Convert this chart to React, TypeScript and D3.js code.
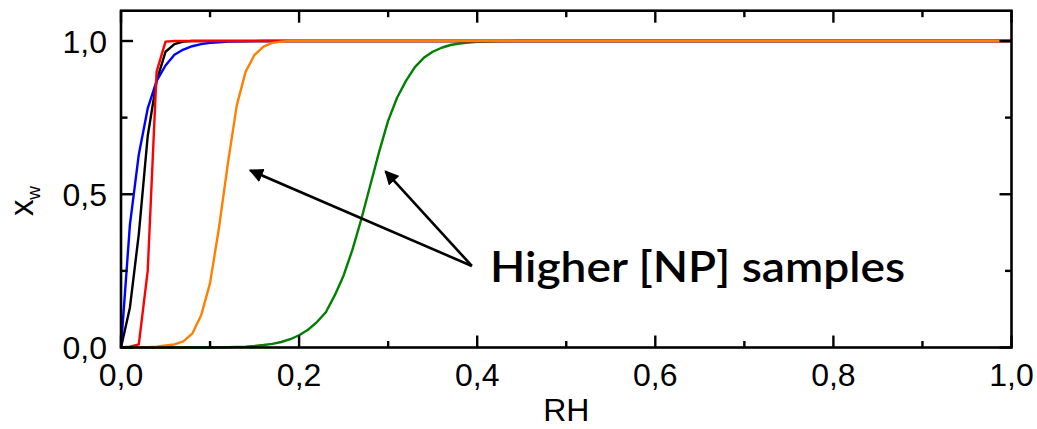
import React from 'react';
import * as d3 from 'd3';

const width = 1037;
const height = 429;

// series (RH vs x_w)
const redRH = [0, 0.01, 0.02, 0.03, 0.04, 0.05, 0.06, 1.0];
const redXw = [0, 0.003, 0.01, 0.25, 0.9, 0.998, 1, 1];

const blackRH = [0, 0.01, 0.02, 0.03, 0.04, 0.05, 0.06, 0.07, 0.08, 1.0];
const blackXw = [0, 0.13, 0.37, 0.69, 0.87, 0.965, 0.99, 0.998, 1, 1];

const blueRH = [0, 0.01, 0.02, 0.03, 0.04, 0.05, 0.06, 0.07, 0.08, 0.09, 0.1, 0.11, 0.12, 0.14, 0.16, 0.18, 1.0];
const blueXw = [0, 0.4, 0.63, 0.78, 0.87, 0.92, 0.955, 0.972, 0.983, 0.99, 0.994, 0.996, 0.998, 0.999, 1, 1, 1];

const orangeRH = [0, 0.03, 0.04, 0.05, 0.06, 0.07, 0.08, 0.09, 0.1, 0.11, 0.12, 0.13, 0.14, 0.15, 0.16, 0.17, 0.18, 0.19, 0.2, 1.0];
const orangeXw = [0, 0.001, 0.003, 0.007, 0.01, 0.02, 0.045, 0.105, 0.21, 0.39, 0.6, 0.79, 0.9, 0.955, 0.982, 0.994, 0.998, 1, 1, 1];

const greenRH = [0, 0.1, 0.12, 0.13, 0.14, 0.15, 0.16, 0.17, 0.18, 0.19, 0.2, 0.21, 0.22, 0.23, 0.24, 0.25, 0.26, 0.27, 0.28, 0.29, 0.3, 0.31, 0.32, 0.33, 0.34, 0.35, 0.36, 0.37, 0.38, 0.39, 0.4, 0.42, 0.45, 1.0];
const greenXw = [0, 0, 0.001, 0.002, 0.003, 0.005, 0.008, 0.012, 0.018, 0.027, 0.04, 0.058, 0.083, 0.115, 0.17, 0.235, 0.32, 0.42, 0.53, 0.64, 0.74, 0.815, 0.87, 0.915, 0.945, 0.965, 0.978, 0.987, 0.992, 0.995, 0.997, 0.999, 1, 1];

const seriesList = [
  { name: 'green', rh: greenRH, xw: greenXw, color: '#008000' },
  { name: 'black', rh: blackRH, xw: blackXw, color: '#000000' },
  { name: 'blue', rh: blueRH, xw: blueXw, color: '#0000ff' },
  { name: 'red', rh: redRH, xw: redXw, color: '#ff0000' },
  { name: 'orange', rh: orangeRH, xw: orangeXw, color: '#ff8000' },
];

const xMajor = [0, 0.2, 0.4, 0.6, 0.8, 1.0];
const xMinor = [0.1, 0.3, 0.5, 0.7, 0.9];
const yMajor = [0, 0.5, 1.0];
const yMinor = [0.25, 0.75];

// annotation arrows (data coords): tail + two tips
const arrowTail = [0.394, 0.266];
const arrowTips = [[0.145, 0.578], [0.297, 0.575]];

const fmt = (v: number) => v.toFixed(1).replace('.', ',');

export default function App() {
  const left = 121, right = 1011.5, bottom = 347.5, top = 10.7;
  const x = d3.scaleLinear().domain([0, 1]).range([left, right]);
  const y = d3.scaleLinear().domain([0, 1]).range([bottom, 41]);

  const line = d3.line<[number, number]>()
    .x(d => x(d[0]))
    .y(d => y(d[1]));

  const font = '"Liberation Sans", Arial, sans-serif';

  return (
    <svg width={width} height={height} style={{ position: 'absolute', left: 0, top: 0 }}>
      <defs>
        <marker id="ah" viewBox="0 0 10 10" refX="9" refY="5" markerWidth="5.5" markerHeight="5.5"
          markerUnits="strokeWidth" orient="auto">
          <path d="M0,0 L10,5 L0,10 z" fill="#000" />
        </marker>
      </defs>

      {seriesList.map(s => (
        <path key={s.name}
          d={line(s.rh.map((r, i) => [r, s.xw[i]] as [number, number])) || ''}
          fill="none" stroke={s.color} strokeWidth={2.4} strokeLinejoin="round" />
      ))}

      {/* frame */}
      <rect x={left} y={top} width={right - left} height={bottom - top}
        fill="none" stroke="#000" strokeWidth={2.6} />

      {/* x ticks, bottom and top, inward */}
      {xMajor.map(v => (
        <g key={'xM' + v}>
          <line x1={x(v)} x2={x(v)} y1={bottom} y2={bottom - 12} stroke="#000" strokeWidth={2.4} />
          <line x1={x(v)} x2={x(v)} y1={top} y2={top + 12} stroke="#000" strokeWidth={2.4} />
          <text x={x(v)} y={386} textAnchor="middle" fontFamily={font} fontSize={32}>{fmt(v)}</text>
        </g>
      ))}
      {xMinor.map(v => (
        <g key={'xm' + v}>
          <line x1={x(v)} x2={x(v)} y1={bottom} y2={bottom - 6.5} stroke="#000" strokeWidth={2.4} />
          <line x1={x(v)} x2={x(v)} y1={top} y2={top + 6.5} stroke="#000" strokeWidth={2.4} />
        </g>
      ))}

      {/* y ticks, left and right, inward */}
      {yMajor.map(v => (
        <g key={'yM' + v}>
          <line x1={left} x2={left + 12} y1={y(v)} y2={y(v)} stroke="#000" strokeWidth={2.4} />
          <line x1={right} x2={right - 12} y1={y(v)} y2={y(v)} stroke="#000" strokeWidth={2.4} />
          <text x={107} y={y(v) + 11.5} textAnchor="end" fontFamily={font} fontSize={32}>{fmt(v)}</text>
        </g>
      ))}
      {yMinor.map(v => (
        <g key={'ym' + v}>
          <line x1={left} x2={left + 6.5} y1={y(v)} y2={y(v)} stroke="#000" strokeWidth={2.4} />
          <line x1={right} x2={right - 6.5} y1={y(v)} y2={y(v)} stroke="#000" strokeWidth={2.4} />
        </g>
      ))}

      {/* axis titles */}
      <text x={(left + right) / 2} y={421} textAnchor="middle" fontFamily={font} fontSize={32}>RH</text>
      <text transform="translate(33,201) rotate(-90)" textAnchor="middle" fontFamily={font} fontSize={33}>
        x<tspan fontSize={19} dy={7}>w</tspan>
      </text>

      {/* annotation */}
      {arrowTips.map((t, i) => (
        <line key={'arr' + i} x1={x(arrowTail[0])} y1={y(arrowTail[1])} x2={x(t[0])} y2={y(t[1])}
          stroke="#000" strokeWidth={2.6} markerEnd="url(#ah)" />
      ))}
      <text x={490} y={282} fontFamily="Lato, sans-serif" fontWeight={600} fontSize={42}
        textLength={415} lengthAdjust="spacingAndGlyphs">Higher [NP] samples</text>
    </svg>
  );
}
